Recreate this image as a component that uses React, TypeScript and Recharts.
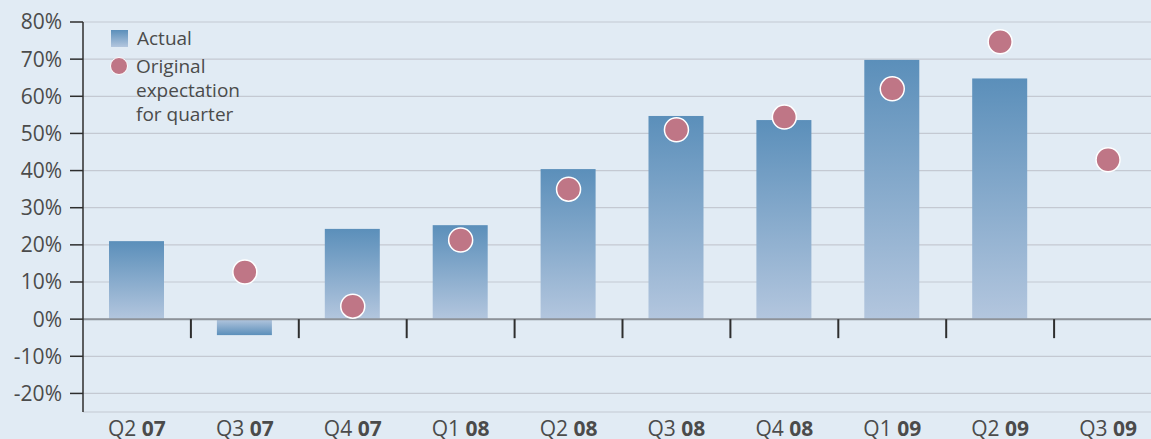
import React from "react";
import {
  ComposedChart,
  Bar,
  Scatter,
  XAxis,
  YAxis,
  CartesianGrid,
  ReferenceLine,
} from "recharts";

const quarters = ["Q2", "Q3", "Q4", "Q1", "Q2", "Q3", "Q4", "Q1", "Q2", "Q3"];
const years = ["07", "07", "07", "08", "08", "08", "08", "09", "09", "09"];
const actual: (number | null)[] = [21, -4.3, 24.3, 25.3, 40.4, 54.7, 53.6, 69.8, 64.8, null];
const expectation: (number | null)[] = [null, 12.7, 3.5, 21.3, 35, 51, 54.4, 62, 74.7, 42.9];
const yTicks = [-20, -10, 0, 10, 20, 30, 40, 50, 60, 70, 80];

const data = quarters.map((q, i) => ({
  name: `${q} ${years[i]}`,
  q,
  yr: years[i],
  actual: actual[i],
  expectation: expectation[i],
}));

const W = 1162;
const H = 439;
const TOP = 22;
const XH = 27;
const YW = 83;
const Y_MIN = -25;
const Y_MAX = 80;
const plotH = H - TOP - XH;
const plotW = W - YW;
const band = plotW / data.length;
const zeroY = TOP + (plotH * Y_MAX) / (Y_MAX - Y_MIN);

const TEXT = "#4b4b4b";
const FONT = "'Open Sans', 'Noto Sans', sans-serif";
const DARK = "#5b8fba";
const LIGHT = "#b3c6de";

const XTick = (props: any) => {
  const { x, payload, index } = props;
  const d = data[payload.index ?? index];
  return (
    <g>
      {index > 0 && (
        <line
          x1={x - band / 2}
          x2={x - band / 2}
          y1={zeroY}
          y2={zeroY + 19}
          stroke="#2e2e2e"
          strokeWidth={2}
        />
      )}
      <text x={x} y={H - 3} textAnchor="middle" fill={TEXT} fontSize={21} fontFamily={FONT}>
        <tspan>{d.q} </tspan>
        <tspan fontWeight="bold">{d.yr}</tspan>
      </text>
    </g>
  );
};

const BarShape = (props: any) => {
  const { x, y, width, height, value } = props;
  const v = Array.isArray(value) ? value[1] - value[0] : value;
  const yy = height < 0 ? y + height : y;
  const hh = Math.abs(height);
  return (
    <rect
      x={x}
      y={yy}
      width={width}
      height={hh}
      fill={v < 0 ? "url(#gradNeg)" : "url(#gradPos)"}
    />
  );
};

const Dot = (props: any) => {
  const { cx, cy } = props;
  if (cx == null || cy == null) return null;
  return <circle cx={cx} cy={cy} r={12} fill="#bf7686" stroke="#ffffff" strokeWidth={1.5} />;
};

const LegendBox = () => (
  <div
    style={{
      position: "absolute",
      left: 108,
      top: 26,
      fontFamily: FONT,
      fontSize: 19,
      color: TEXT,
      lineHeight: "24px",
    }}
  >
    <div style={{ display: "flex", alignItems: "center" }}>
      <div
        style={{
          width: 17,
          height: 17,
          background: `linear-gradient(${DARK}, ${LIGHT})`,
          marginLeft: 3,
          marginRight: 9,
        }}
      />
      <span>Actual</span>
    </div>
    <div style={{ display: "flex", alignItems: "flex-start", marginTop: 4 }}>
      <div
        style={{
          width: 18,
          height: 18,
          borderRadius: 9,
          background: "#bf7686",
          border: "1.5px solid #fff",
          marginTop: 3,
          marginLeft: 2,
          marginRight: 8,
          boxSizing: "border-box",
        }}
      />
      <span>
        Original
        <br />
        expectation
        <br />
        for quarter
      </span>
    </div>
  </div>
);

export default function App() {
  return (
    <div
      style={{
        position: "absolute",
        left: 0,
        top: 0,
        width: 1151,
        height: 439,
        overflow: "hidden",
        background: "#e1ebf4",
      }}
    >
      <ComposedChart
        width={W}
        height={H}
        data={data}
        margin={{ top: TOP, right: 0, bottom: 0, left: 0 }}
      >
        <defs>
          <linearGradient id="gradPos" x1="0" y1="0" x2="0" y2="1">
            <stop offset="0%" stopColor={DARK} />
            <stop offset="100%" stopColor={LIGHT} />
          </linearGradient>
          <linearGradient id="gradNeg" x1="0" y1="0" x2="0" y2="1">
            <stop offset="0%" stopColor={LIGHT} />
            <stop offset="100%" stopColor={DARK} />
          </linearGradient>
        </defs>
        <CartesianGrid vertical={false} stroke="#c4c9d2" strokeWidth={1.2} />
        <XAxis
          dataKey="name"
          height={XH}
          axisLine={false}
          tickLine={false}
          interval={0}
          tick={<XTick />}
        />
        <YAxis
          width={YW}
          domain={[Y_MIN, Y_MAX]}
          ticks={yTicks}
          interval={0}
          allowDataOverflow
          tickFormatter={(v: number) => `${v}%`}
          tickSize={13}
          tickMargin={8}
          axisLine={{ stroke: "#2e2e2e", strokeWidth: 1.5 }}
          tickLine={{ stroke: "#2e2e2e", strokeWidth: 1.5 }}
          tick={{ fill: TEXT, fontSize: 21, fontFamily: FONT }}
        />
        <Bar
          dataKey="actual"
          barSize={55}
          shape={<BarShape />}
          isAnimationActive={false}
        />
        <ReferenceLine y={0} stroke="#8d9299" strokeWidth={2} />
        <Scatter dataKey="expectation" shape={<Dot />} isAnimationActive={false} />
      </ComposedChart>
      <LegendBox />
    </div>
  );
}
